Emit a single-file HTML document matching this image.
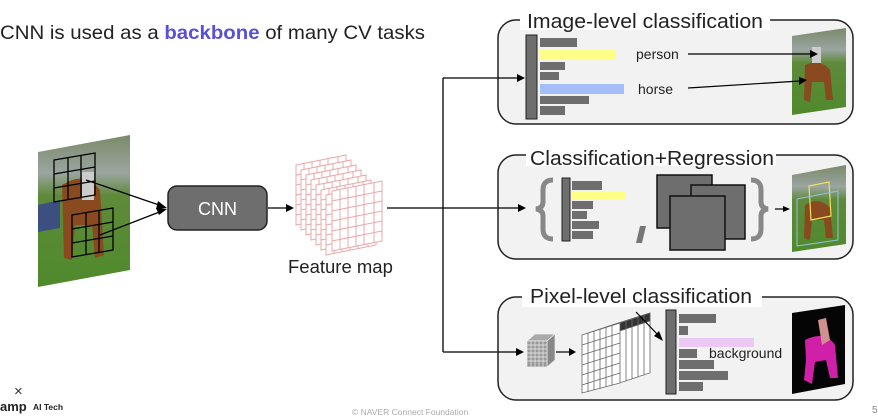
<!DOCTYPE html>
<html><head><meta charset="utf-8"><style>
html,body{margin:0;padding:0;background:#fff;}
svg{display:block;font-family:"Liberation Sans","Noto Sans CJK KR",sans-serif;}
</style></head><body>
<svg width="878" height="418" viewBox="0 0 878 418" xmlns="http://www.w3.org/2000/svg">
<defs>
<linearGradient id="photo" x1="0" y1="0" x2="0" y2="1">
<stop offset="0" stop-color="#7a8a6a"/><stop offset="0.25" stop-color="#9aa5a0"/><stop offset="0.4" stop-color="#5f8a3a"/><stop offset="1" stop-color="#4f8a2c"/></linearGradient>
</defs>

<text x="0" y="39" font-size="19.5" fill="#222" textLength="425" lengthAdjust="spacingAndGlyphs">CNN is used as a <tspan fill="#5a50d8" font-weight="bold">backbone</tspan> of many CV tasks</text>

<!-- input image -->
<polygon points="38,152 130,135 130,270 38,287" fill="url(#photo)"/>
<polygon points="38,205 60,200 60,228 38,232" fill="#3d4f80"/>
<path d="M62,185 Q85,170 100,190 L104,255 L95,258 L92,225 L75,225 L72,260 L64,258 Z" fill="#8a4a20"/>
<rect x="82" y="172" width="12" height="28" fill="#ccc"/>
<g stroke="#000" stroke-width="1.3" fill="none">
<polygon points="54,160 95,153 95,195 54,202"/>
<line x1="68" y1="158" x2="68" y2="200"/><line x1="81" y1="155" x2="81" y2="197"/>
<line x1="54" y1="174" x2="95" y2="167"/><line x1="54" y1="188" x2="95" y2="181"/>
<polygon points="72,215 113,208 113,250 72,257"/>
<line x1="86" y1="213" x2="86" y2="255"/><line x1="99" y1="210" x2="99" y2="252"/>
<line x1="72" y1="229" x2="113" y2="222"/><line x1="72" y1="243" x2="113" y2="236"/>
<line x1="86" y1="180" x2="162" y2="206"/>
<line x1="100" y1="235" x2="162" y2="211"/>
</g>
<polygon points="167,208 158,201 156,209" fill="#000"/>
<polygon points="167,209 156,208 159,215" fill="#000"/>

<!-- CNN -->
<rect x="168" y="186" width="99" height="44" rx="9" fill="#6e6e6e" stroke="#222" stroke-width="1.5"/>
<text x="217.5" y="215" font-size="18" fill="#fff" text-anchor="middle">CNN</text>
<line x1="268" y1="208" x2="287" y2="208" stroke="#000" stroke-width="1.3"/>
<polygon points="294,208 286,204 286,212" fill="#000"/>

<!-- feature map -->
<g fill="#fff" stroke="#e8a8a8" stroke-width="1">
<g id="fm">
<polygon points="296,165 346,155 346,215 296,225"/>
<path d="M304,163.4V223.4M312,161.8V221.8M320,160.2V220.2M328,158.6V218.6M338,156.6V216.6M296,175 L346,165M296,185 L346,175M296,195 L346,185M296,205 L346,195M296,215 L346,205" fill="none"/>
</g>
<use href="#fm" x="5" y="5"/><use href="#fm" x="10" y="10"/><use href="#fm" x="15" y="15"/>
<use href="#fm" x="20" y="20"/><use href="#fm" x="25" y="25"/><use href="#fm" x="30" y="30"/>
<use href="#fm" x="36" y="26"/>
</g>
<text x="288" y="273" font-size="18.5" fill="#222">Feature map</text>

<!-- connectors -->
<g stroke="#000" stroke-width="1.3" fill="none">
<line x1="387" y1="208" x2="443" y2="208"/>
<line x1="443" y1="78" x2="443" y2="352"/>
<line x1="443" y1="78" x2="518" y2="78"/>
<line x1="443" y1="208" x2="519" y2="208"/>
<line x1="443" y1="352" x2="517" y2="352"/>
</g>

<!-- Box 1 -->
<rect x="498" y="20" width="355" height="104" rx="18" fill="#f2f2f2" stroke="#222" stroke-width="1.5"/>
<rect x="520" y="8" width="250" height="22" fill="#fff"/>
<text x="527" y="28" font-size="20" fill="#222" textLength="236" lengthAdjust="spacingAndGlyphs">Image-level classification</text>
<rect x="526" y="35" width="11" height="84" fill="#6e6e6e" stroke="#222"/>
<g fill="#6e6e6e">
<rect x="540" y="38" width="37" height="9"/>
<rect x="540" y="50" width="76" height="10" fill="#ffff88"/>
<rect x="540" y="62" width="25" height="8"/>
<rect x="540" y="72" width="19" height="8"/>
<rect x="540" y="84" width="84" height="10" fill="#a4bef8"/>
<rect x="540" y="96" width="49" height="8"/>
<rect x="540" y="106" width="25" height="9"/>
</g>
<text x="636" y="59" font-size="14" fill="#222">person</text>
<text x="638" y="94" font-size="14" fill="#222">horse</text>
<polygon points="792,36 846,28 846,107 792,115" fill="url(#photo)"/>
<path d="M805,65 Q820,58 830,70 L833,100 L826,100 L824,82 L812,82 L810,102 L804,100 Z" fill="#8a4a20"/>
<rect x="812" y="47" width="9" height="16" fill="#ccc"/>
<g stroke="#000" stroke-width="1.2"><line x1="688" y1="54" x2="811" y2="54"/><line x1="688" y1="88" x2="800" y2="81"/></g>
<polygon points="818,54 810,50 810,58" fill="#000"/>
<polygon points="807,80 799,77 799,85" fill="#000"/>

<!-- Box 2 -->
<rect x="498" y="155" width="355" height="104" rx="18" fill="#f2f2f2" stroke="#222" stroke-width="1.5"/>
<rect x="526" y="144" width="250" height="22" fill="#fff"/>
<text x="530" y="165" font-size="20" fill="#222" textLength="244" lengthAdjust="spacingAndGlyphs">Classification+Regression</text>
<path d="M553,180 Q543,180 543,190 L543,202 Q543,208 536,209 Q543,210 543,216 L543,229 Q543,239 553,239" fill="none" stroke="#888" stroke-width="5"/>
<rect x="562" y="178" width="8" height="63" fill="#6e6e6e" stroke="#222"/>
<g fill="#6e6e6e">
<rect x="572" y="181" width="30" height="9"/>
<rect x="572" y="191" width="54" height="8" fill="#ffff88"/>
<rect x="572" y="201" width="21" height="8"/>
<rect x="572" y="211" width="15" height="8"/>
<rect x="572" y="221" width="27" height="8"/>
<rect x="572" y="231" width="21" height="8"/>
</g>
<polygon points="640,226 646,226 642,243 636,243" fill="#777"/>
<g fill="#6e6e6e" stroke="#111" stroke-width="1.5">
<rect x="657" y="175" width="55" height="53"/>
<rect x="691" y="185" width="54" height="54"/>
<rect x="670" y="196" width="55" height="54"/>
</g>
<path d="M751,180 Q761,180 761,190 L761,202 Q761,208 768,209 Q761,210 761,216 L761,229 Q761,239 751,239" fill="none" stroke="#888" stroke-width="5"/>
<line x1="775" y1="209" x2="783" y2="209" stroke="#000" stroke-width="1.2"/>
<polygon points="790,209 783,206 783,212" fill="#000"/>
<polygon points="792,175 846,165 846,244 792,252" fill="url(#photo)"/>
<path d="M805,205 Q820,196 830,208 L833,238 L826,238 L824,220 L812,220 L810,240 L804,238 Z" fill="#8a4a20"/>
<polygon points="809,186 829,182 831,216 811,220" fill="none" stroke="#f0e060" stroke-width="1.2"/>
<polygon points="797,199 838,191 838,240 797,246" fill="none" stroke="#9ac0d8" stroke-width="1"/>

<!-- Box 3 -->
<rect x="498" y="297" width="355" height="103" rx="18" fill="#f2f2f2" stroke="#222" stroke-width="1.5"/>
<rect x="522" y="285" width="240" height="22" fill="#fff"/>
<text x="530" y="303" font-size="20" fill="#222" textLength="222" lengthAdjust="spacingAndGlyphs">Pixel-level classification</text>
<!-- small cube -->
<g stroke="#eee" stroke-width="0.7">
<polygon points="527,341 535,334 555,334 547,341" fill="#aaa"/>
<polygon points="547,341 555,334 555,360 547,367" fill="#888"/>
<rect x="527" y="341" width="20" height="26" fill="#999"/>
<path d="M531,341V367M535,341V367M539,341V367M543,341V367M527,345H547M527,349H547M527,353H547M527,357H547M527,361H547" fill="none"/>
</g>
<line x1="556" y1="352" x2="569" y2="352" stroke="#000" stroke-width="1.2"/>
<polygon points="576,352 569,348 569,356" fill="#000"/>
<!-- stacked layers -->
<g fill="#fff" stroke="#666" stroke-width="0.8">
<g transform="translate(30,-10)"><polygon points="582,335 620,323 620,383 582,393"/><polygon points="612,325.5 620,323 620,331 612,333.5" fill="#333"/></g>
<g transform="translate(24,-8)"><polygon points="582,335 620,323 620,383 582,393"/><polygon points="612,325.5 620,323 620,331 612,333.5" fill="#333"/></g>
<g transform="translate(18,-6)"><polygon points="582,335 620,323 620,383 582,393"/><polygon points="612,325.5 620,323 620,331 612,333.5" fill="#333"/></g>
<g transform="translate(12,-4)"><polygon points="582,335 620,323 620,383 582,393"/><polygon points="612,325.5 620,323 620,331 612,333.5" fill="#333"/></g>
<g transform="translate(6,-2)"><polygon points="582,335 620,323 620,383 582,393"/><polygon points="612,325.5 620,323 620,331 612,333.5" fill="#333"/></g>
<g><polygon points="582,335 620,323 620,383 582,393"/>
<path d="M588,333V392M594,331V390M600,329.5V389M606,327.5V387M612,325.5V385.5M582,345L620,333M582,355L620,343M582,365L620,353M582,375L620,363M582,385L620,373" fill="none"/></g>
</g>
<line x1="636" y1="312" x2="659" y2="336" stroke="#000" stroke-width="1.2"/>
<polygon points="663,341 654,336 659,331" fill="#000"/>
<rect x="666" y="310" width="10" height="84" fill="#6e6e6e" stroke="#222"/>
<g fill="#6e6e6e">
<rect x="679" y="314" width="37" height="9"/>
<rect x="679" y="326" width="9" height="9"/>
<rect x="679" y="338" width="75" height="9" fill="#ecc8f4"/>
<rect x="679" y="349" width="18" height="9"/>
<rect x="679" y="360" width="35" height="9"/>
<rect x="679" y="371" width="49" height="9"/>
<rect x="679" y="382" width="24" height="9"/>
</g>
<text x="709" y="358" font-size="14" fill="#222">background</text>
<polygon points="792,313 845,305 845,384 792,394" fill="#050505"/>
<path d="M805,340 Q825,330 835,345 L838,378 L830,378 L826,360 L815,362 L812,384 L804,380 L806,360 Z" fill="#d020a8"/>
<path d="M818,320 L826,318 L830,340 L822,345 Z" fill="#d09090"/>

<!-- box-entry arrowheads (drawn on top) -->
<polygon points="525,78 517,74 517,82" fill="#000"/>
<polygon points="526,208 518,204 518,212" fill="#000"/>
<polygon points="524,352 516,348 516,356" fill="#000"/>
<g stroke="#000" stroke-width="1.3">
<line x1="498" y1="78" x2="518" y2="78"/>
<line x1="498" y1="208" x2="519" y2="208"/>
<line x1="498" y1="352" x2="517" y2="352"/>
</g>

<!-- footer -->
<text x="14" y="396" font-size="15" fill="#333">×</text>
<text x="0" y="411" font-size="13" fill="#222" font-weight="bold">amp</text>
<text x="33" y="410" font-size="8.5" fill="#222" font-weight="bold">AI Tech</text>
<text x="352" y="415" font-size="8.5" fill="#aaa">© NAVER Connect Foundation</text>
<text x="872" y="413" font-size="10" fill="#888">5</text>
</svg>
</body></html>
